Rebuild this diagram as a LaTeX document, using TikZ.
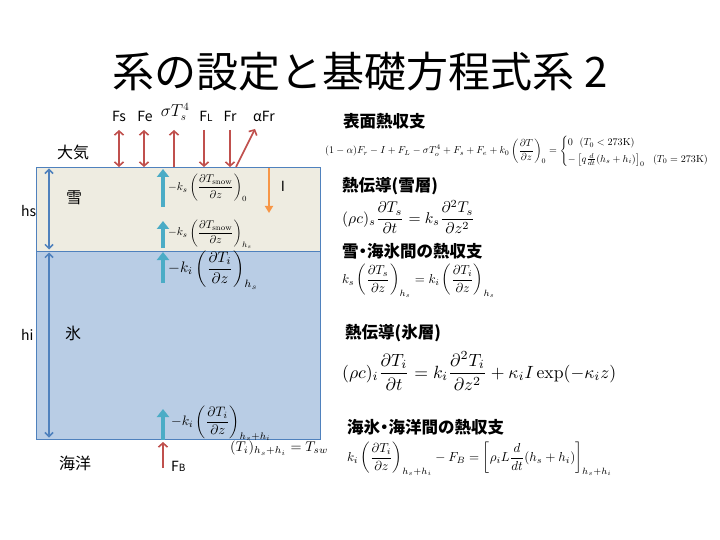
\documentclass[tikz,border=0pt]{standalone}
\usepackage{amsmath}
\usepackage{graphicx}
\usepackage{fontspec}
\newfontfamily\jp{Noto Sans CJK JP}
\usetikzlibrary{arrows.meta}
\definecolor{snowc}{HTML}{EEECE1}
\definecolor{icec}{HTML}{B9CDE5}
\definecolor{edgec}{HTML}{4F81BD}
\definecolor{redc}{HTML}{C0504D}
\definecolor{cyanc}{HTML}{4BACC6}
\definecolor{orangec}{HTML}{F79646}
\newcommand{\rbx}[2]{\resizebox{#1pt}{!}{$\displaystyle #2$}}
\newcommand{\smallsub}[1]{{\fontsize{10}{10}\selectfont #1}}
\newcommand{\ndot}{\kern-4pt・\kern-4pt}
\tikzset{
  layer/.style={draw=edgec, line width=1pt},
  dimarr/.style={draw=edgec, line width=1.5pt, {Straight Barb[length=4pt,width=8pt]}-{Straight Barb[length=4pt,width=8pt]}},
  redarr/.style={draw=redc, line width=1.6pt, -{Straight Barb[length=4pt,width=9pt]}},
  reddbl/.style={draw=redc, line width=1.6pt, {Straight Barb[length=4pt,width=9pt]}-{Straight Barb[length=4pt,width=9pt]}},
  cyanarr/.style={draw=cyanc, line width=3.5pt, -{Triangle[length=8pt,width=12pt]}},
  orangearr/.style={draw=orangec, line width=2.5pt, -{Triangle[length=7pt,width=8pt]}},
  jplab/.style={font=\jp\fontsize{16}{16}\selectfont, inner sep=0pt},
  head/.style={font=\jp\bfseries\fontsize{16.5}{16.5}\selectfont, inner sep=0pt, anchor=west},
  flab/.style={font=\jp\fontsize{14}{14}\selectfont, inner sep=0pt},
  eq/.style={inner sep=0pt, anchor=west},
}
\begin{document}
\begin{tikzpicture}[x=1pt,y=-1pt]
\useasboundingbox (0,0) rectangle (720,540);
\fill[white] (0,0) rectangle (720,540);

% title
\node[font=\jp\fontsize{42}{42}\selectfont, inner sep=0pt] (title) at (360,72) {系の設定と基礎方程式系 2};

% layers
\node[layer, fill=snowc, minimum width=284pt, minimum height=84pt, inner sep=0pt, anchor=north west] (snow) at (36,167) {};
\node[layer, fill=icec, minimum width=284pt, minimum height=188pt, inner sep=0pt, anchor=north west] (ice) at (36,251) {};

% thickness arrows
\coordinate (hs1) at (49,168.5);
\coordinate (hs2) at (49,249.5);
\coordinate (hi1) at (49,252.5);
\coordinate (hi2) at (49,437.5);
\draw[dimarr] (hs1) -- (hs2);
\draw[dimarr] (hi1) -- (hi2);
\node[flab, anchor=west] (hslab) at (21,211) {hs};
\node[flab, anchor=west] (hilab) at (21,335) {hi};

% region labels
\node[jplab] (atm) at (73,152) {大気};
\node[jplab] (snowlab) at (74,198) {雪};
\node[jplab] (icelab) at (73,333) {氷};
\node[jplab] (ocean) at (75,463) {海洋};

% surface fluxes
\coordinate (fs1) at (119,130); \coordinate (fs2) at (119,167);
\coordinate (fe1) at (144,130); \coordinate (fe2) at (144,167);
\coordinate (lw1) at (174,167); \coordinate (lw2) at (174,130);
\coordinate (fl1) at (204,130); \coordinate (fl2) at (204,167);
\coordinate (fr1) at (230,130); \coordinate (fr2) at (230,167);
\coordinate (af1) at (236,167); \coordinate (af2) at (255,129);
\draw[reddbl] (fs1) -- (fs2);
\draw[reddbl] (fe1) -- (fe2);
\draw[redarr] (lw1) -- (lw2);
\draw[redarr] (fl1) -- (fl2);
\draw[redarr] (fr1) -- (fr2);
\draw[redarr] (af1) -- (af2);
\node[flab] (fslab) at (119,116) {Fs};
\node[flab] (felab) at (145,116) {Fe};
\node[inner sep=0pt, font=\fontsize{16}{16}\selectfont] (lwlab) at (175,112) {$\sigma T_s^4$};
\node[flab] (fllab) at (206,116) {F\smallsub{L}};
\node[flab] (frlab) at (230,116) {Fr};
\node[flab] (aflab) at (264,116) {αFr};

% conduction arrows
\coordinate (c1a) at (163,207); \coordinate (c1b) at (163,169);
\coordinate (c2a) at (163,248); \coordinate (c2b) at (163,221);
\coordinate (c3a) at (163,283); \coordinate (c3b) at (163,252);
\coordinate (c4a) at (163,440); \coordinate (c4b) at (163,409);
\draw[cyanarr] (c1a) -- (c1b);
\draw[cyanarr] (c2a) -- (c2b);
\draw[cyanarr] (c3a) -- (c3b);
\draw[cyanarr] (c4a) -- (c4b);
\node[eq] (k1) at (168,188) {\rbx{79}{-k_s\left(\frac{\partial T_{\mathrm{snow}}}{\partial z}\right)_0}};
\node[eq] (k2) at (168,234) {\rbx{84}{-k_s\left(\frac{\partial T_{\mathrm{snow}}}{\partial z}\right)_{h_s}}};
\node[eq] (k3) at (168,270) {\rbx{90}{-k_i\left(\frac{\partial T_i}{\partial z}\right)_{h_s}}};
\node[eq] (k4) at (171,423) {\rbx{100}{-k_i\left(\frac{\partial T_i}{\partial z}\right)_{h_s+h_i}}};

% bottom flux
\coordinate (fb1) at (163,468); \coordinate (fb2) at (163,442);
\draw[redarr] (fb1) -- (fb2);
\node[flab, anchor=west] (fblab) at (171,466) {F\smallsub{B}};
\node[eq] (tsw) at (230,448) {\rbx{98}{(T_i)_{h_s+h_i}=T_{sw}}};

% shortwave penetration
\coordinate (i1) at (269,168); \coordinate (i2) at (269,213);
\draw[orangearr] (i1) -- (i2);
\node[flab] (ilab) at (283,186) {I};

% right side
\node[head] (h1) at (343,121) {表面熱収支};
\node[eq] (e1) at (325,151) {\rbx{394}{(1-\alpha)F_r-I+F_L-\sigma T_o^4+F_s+F_e+k_0\left(\frac{\partial T}{\partial z}\right)_0=\begin{cases}0\ \ (T_0<273\mathrm{K})\\[2pt] -\left[q\frac{d}{dt}(h_s+h_i)\right]_0\ \ (T_0=273\mathrm{K})\end{cases}}};
\node[head] (h2) at (342,186) {熱伝導(雪層)};
\node[eq] (e2) at (342,217) {\rbx{133}{(\rho c)_s\frac{\partial T_s}{\partial t}=k_s\frac{\partial^2 T_s}{\partial z^2}}};
\node[head] (h3) at (342,251) {雪\ndot 海氷間の熱収支};
\node[eq] (e3) at (342,281) {\rbx{153}{k_s\left(\frac{\partial T_s}{\partial z}\right)_{h_s}=k_i\left(\frac{\partial T_i}{\partial z}\right)_{h_s}}};
\node[head] (h4) at (345,333) {熱伝導(氷層)};
\node[eq] (e4) at (342,371) {\rbx{274}{(\rho c)_i\frac{\partial T_i}{\partial t}=k_i\frac{\partial^2 T_i}{\partial z^2}+\kappa_i I\exp(-\kappa_i z)}};
\node[head] (h5) at (347,427) {海氷\ndot 海洋間の熱収支};
\node[eq] (e5) at (347,459) {\rbx{265}{k_i\left(\frac{\partial T_i}{\partial z}\right)_{h_s+h_i}-F_B=\left[\rho_i L\frac{d}{dt}(h_s+h_i)\right]_{h_s+h_i}}};
\end{tikzpicture}
\end{document}
